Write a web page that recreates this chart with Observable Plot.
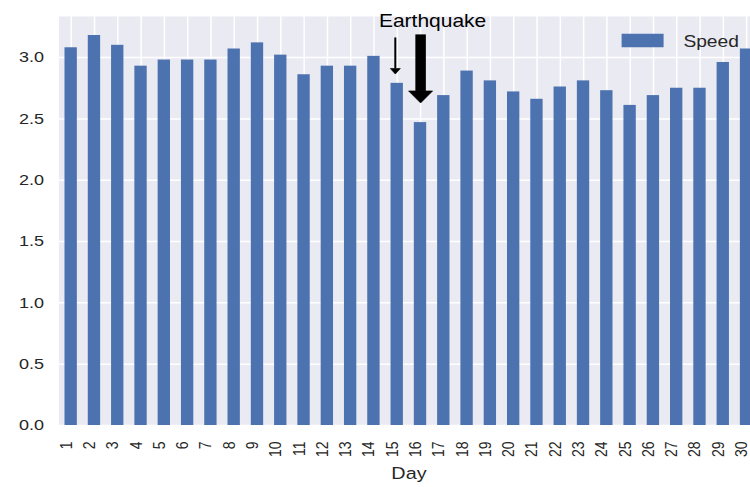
<!DOCTYPE html>
<html><head><meta charset="utf-8">
<script src="https://cdn.jsdelivr.net/npm/d3@7"></script>
<script src="https://cdn.jsdelivr.net/npm/@observablehq/plot@0.6"></script>
<style>
html,body{margin:0;padding:0;overflow:hidden;background:#fff;}
#chart{width:750px;height:487px;overflow:hidden;position:relative;}
#chart svg{transform:scaleX(1.2);transform-origin:0 0;display:block;}
</style></head><body><div id="chart"></div>
<script>
const days = ["1","2","3","4","5","6","7","8","9","10","11","12","13","14","15","16","17","18","19","20","21","22","23","24","25","26","27","28","29","30"];
const speed = [3.08, 3.18, 3.10, 2.93, 2.98, 2.98, 2.98, 3.07, 3.12, 3.02, 2.86, 2.93, 2.93, 3.01, 2.79, 2.47, 2.69, 2.89, 2.81, 2.72, 2.66, 2.76, 2.81, 2.73, 2.61, 2.69, 2.75, 2.75, 2.96, 3.07];
const yTicks = [0, 0.5, 1.0, 1.5, 2.0, 2.5, 3.0];
const yMax = 3.335;
const arrowDays = ["15", "16"];
const arrowFrom = [3.16, 3.185];
const arrowTo = [2.866, 2.63];
const annotationLabel = "Earthquake";
const annotationDay = "16";
const annotationY = 3.297;
const seriesName = "Speed";
const xLabel = "Day";

const S = 1.2; // horizontal stretch of the reference
const data = days.map((d, i) => ({day: d, speed: speed[i]}));
const arrows = arrowDays.map((d, i) => ({day: d, from: arrowFrom[i], to: arrowTo[i]}));
const arrowStyle = [
  {shaft: 2 / S, headW: 10 / S, headL: 5.5, dx: -2 / S},
  {shaft: 10.5 / S, headW: 24 / S, headL: 12, dx: 0}
];

function head(w, l) {
  return {draw(ctx) { ctx.moveTo(-w / 2, -l); ctx.lineTo(w / 2, -l); ctx.lineTo(0, 0); ctx.closePath(); }};
}
function box(w, h) {
  return {draw(ctx) { ctx.rect(-w / 2, -h / 2, w, h); }};
}

const arrowMarks = arrows.flatMap((a, i) => {
  const st = arrowStyle[i];
  return [
    Plot.ruleX([a], {x: "day", y1: "from", y2: "to", stroke: "black", strokeWidth: st.shaft, insetBottom: st.headL - 0.5, dx: st.dx}),
    Plot.dot([a], {x: "day", y: "to", symbol: head(st.headW, st.headL), fill: "black", stroke: "black", strokeWidth: 0.6, dx: st.dx})
  ];
});

const W = 634;
const mL = 48.6;
const chart = Plot.plot({
  width: W,
  height: 487,
  marginLeft: mL,
  marginRight: 2,
  marginTop: 16,
  marginBottom: 62,
  style: {fontFamily: "'Liberation Sans', Arial, sans-serif", color: "#262626", background: "transparent"},
  x: {type: "band", domain: days, paddingInner: 0.47, paddingOuter: 0.265, round: false},
  y: {domain: [0, yMax]},
  marks: [
    Plot.frame({fill: "#EAEAF2", stroke: null}),
    Plot.gridY({ticks: yTicks, stroke: "white", strokeOpacity: 1, strokeWidth: 1.5}),
    Plot.gridX({stroke: "white", strokeOpacity: 1, strokeWidth: 1.5 / S}),
    Plot.barY(data, {x: "day", y: "speed", fill: "#4C72B0"}),
    Plot.axisY({ticks: yTicks, tickFormat: d3.format(".1f"), tickSize: 0, tickPadding: 12.5, fontSize: 15, label: null}),
    Plot.axisX({tickRotate: -90, tickSize: 0, tickPadding: 16, fontSize: 14, dx: -5 / S, label: null}),
    Plot.text([xLabel], {text: d => d, frameAnchor: "bottom", lineAnchor: "middle", dy: 48.5, fontSize: 16.5, fill: "#262626"}),
    ...arrowMarks,
    Plot.text([{day: annotationDay, y: annotationY, label: annotationLabel}], {x: "day", y: "y", text: "label", dx: 12 / S, fontSize: 17.5, fill: "black"}),
    Plot.dot([seriesName], {frameAnchor: "top-left", dx: 535 - mL, dy: 24, symbol: box(42 / S, 13.4), fill: "#4C72B0", r: 5}),
    Plot.text([seriesName], {text: d => d, frameAnchor: "top-left", lineAnchor: "middle", dx: 569 - mL, dy: 24.9, textAnchor: "start", fontSize: 16, fill: "#262626"})
  ]
});
document.getElementById("chart").appendChild(chart);
</script></body></html>
